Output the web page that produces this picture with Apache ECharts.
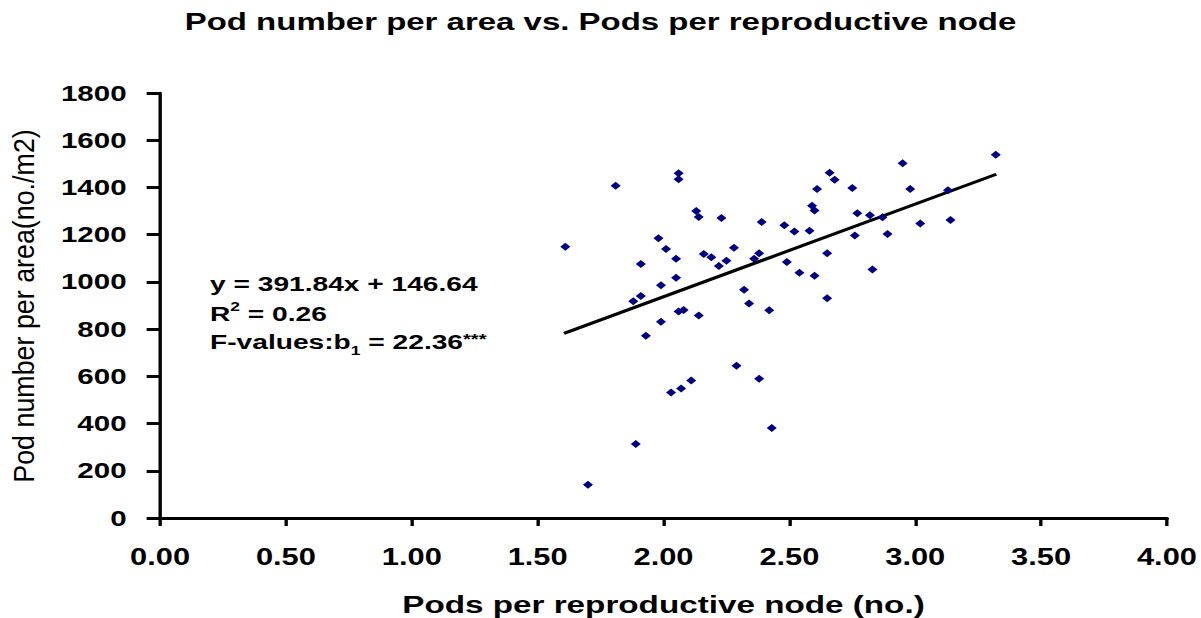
<!DOCTYPE html>
<html>
<head>
<meta charset="utf-8">
<script src="https://cdn.jsdelivr.net/npm/echarts@6/dist/echarts.min.js"></script>
<style>
  html, body { margin: 0; padding: 0; background: #ffffff; }
  #wrap { width: 1201px; height: 618px; overflow: hidden; position: relative; background: #fff; }
  #chart { width: 896px; height: 618px; transform: scaleX(1.340402); transform-origin: 0 0; }
</style>
</head>
<body>
<div id="wrap"><div id="chart"></div></div>
<script>
// ---- data ----
const podsPerNode = [1.61,1.70,1.81,1.88,1.91,1.91,1.89,1.93,1.98,1.99,1.99,2.01,2.03,2.05,2.05,2.06,2.06,2.06,2.08,2.07,2.11,2.13,2.14,2.14,2.16,2.19,2.22,2.23,2.25,2.28,2.29,2.32,2.34,2.36,2.38,2.38,2.39,2.42,2.43,2.48,2.49,2.52,2.54,2.58,2.59,2.60,2.60,2.61,2.65,2.65,2.66,2.68,2.75,2.77,2.76,2.82,2.83,2.87,2.89,2.95,2.98,3.02,3.13,3.14,3.32];
const podsPerArea = [1149,141,1407,918,940,1076,313,772,1185,986,831,1139,532,1098,1018,1460,1435,875,881,549,582,1300,1275,858,1118,1104,1067,1271,1090,1145,645,967,908,1098,1121,590,1254,880,381,1240,1084,1213,1039,1217,1323,1302,1026,1393,1121,931,1462,1433,1398,1291,1197,1282,1053,1274,1203,1502,1393,1247,1388,1262,1539];
const trendX = [1.605, 3.322];
const trendY = [782, 1456];
const xTicks = [0, 4, 0.5];     // min, max, interval
const yTicks = [0, 1800, 200];  // min, max, interval
const titleText = 'Pod number per area vs. Pods per reproductive node';
const xName = 'Pods per reproductive node (no.)';
const yName = 'Pod number per area(no./m2)';

const FONT = '"Liberation Sans", Arial, sans-serif';
const points = podsPerNode.map((x, i) => [x, podsPerArea[i]]);
const trend = trendX.map((x, i) => [x, trendY[i]]);

const chart = echarts.init(document.getElementById('chart'), null, { renderer: 'svg' });
chart.setOption({
  backgroundColor: '#ffffff',
  animation: false,
  title: {
    text: titleText,
    left: 'center',
    top: 9,
    padding: 0,
    textStyle: { fontFamily: FONT, fontWeight: 'bold', fontSize: 24.6, color: '#000' }
  },
  grid: { left: 119.4, right: 25.4, top: 93, bottom: 100, containLabel: false, outerBoundsMode: 'none' },
  xAxis: {
    type: 'value',
    min: xTicks[0], max: xTicks[1], interval: xTicks[2],
    name: xName,
    nameLocation: 'middle',
    nameGap: 74,
    nameTextStyle: { fontFamily: FONT, fontWeight: 'bold', fontSize: 24.8, color: '#000' },
    axisLine: { show: true, onZero: false, lineStyle: { color: '#000', width: 3 } },
    axisTick: { show: true, inside: false, length: 8, lineStyle: { color: '#000', width: 2.5 } },
    axisLabel: { margin: 27, formatter: v => v.toFixed(2), fontFamily: FONT, fontWeight: 'bold', fontSize: 23, color: '#000' },
    splitLine: { show: false }
  },
  yAxis: {
    type: 'value',
    min: yTicks[0], max: yTicks[1], interval: yTicks[2],
    axisLine: { show: true, onZero: false, lineStyle: { color: '#000', width: 2.5 } },
    axisTick: { show: true, inside: false, length: 10, lineStyle: { color: '#000', width: 3 } },
    axisLabel: { margin: 25, formatter: v => String(v), fontFamily: FONT, fontWeight: 'bold', fontSize: 22, color: '#000' },
    splitLine: { show: false }
  },
  graphic: [
    { type: 'text', x: 17.5, y: 306, rotation: Math.PI / 2, scaleX: 1.22, scaleY: 1,
      style: { text: yName, font: '22px ' + FONT, fill: '#000', align: 'center', verticalAlign: 'middle' } },
    { type: 'text', left: 156.7, top: 273, style: { text: 'y = 391.84x + 146.64', font: 'bold 21px ' + FONT, fill: '#000' } },
    { type: 'text', left: 156.7, top: 300, style: {
        text: '{a|R}{s|2}{a| = 0.26}',
        rich: {
          a: { fontFamily: FONT, fontWeight: 'bold', fontSize: 21, lineHeight: 24, fill: '#000', verticalAlign: 'bottom' },
          s: { fontFamily: FONT, fontWeight: 'bold', fontSize: 13, lineHeight: 24, fill: '#000', verticalAlign: 'top' }
        } } },
    { type: 'text', left: 156.7, top: 331, style: {
        text: '{a|F-values:b}{s|1}{a| = 22.36}{t|***}',
        rich: {
          a: { fontFamily: FONT, fontWeight: 'bold', fontSize: 21, lineHeight: 26, fill: '#000', verticalAlign: 'top' },
          s: { fontFamily: FONT, fontWeight: 'bold', fontSize: 13, lineHeight: 26, fill: '#000', verticalAlign: 'bottom' },
          t: { fontFamily: FONT, fontWeight: 'bold', fontSize: 15, lineHeight: 26, fill: '#000', verticalAlign: 'top' }
        } } }
  ],
  series: [
    {
      type: 'scatter',
      data: points,
      symbol: 'diamond',
      symbolSize: [7.5, 8],
      itemStyle: { color: '#000080', opacity: 1 },
      z: 3
    },
    {
      type: 'line',
      data: trend,
      showSymbol: false,
      symbol: 'none',
      lineStyle: { color: '#000', width: 3 },
      z: 2
    }
  ]
});
</script>
</body>
</html>
